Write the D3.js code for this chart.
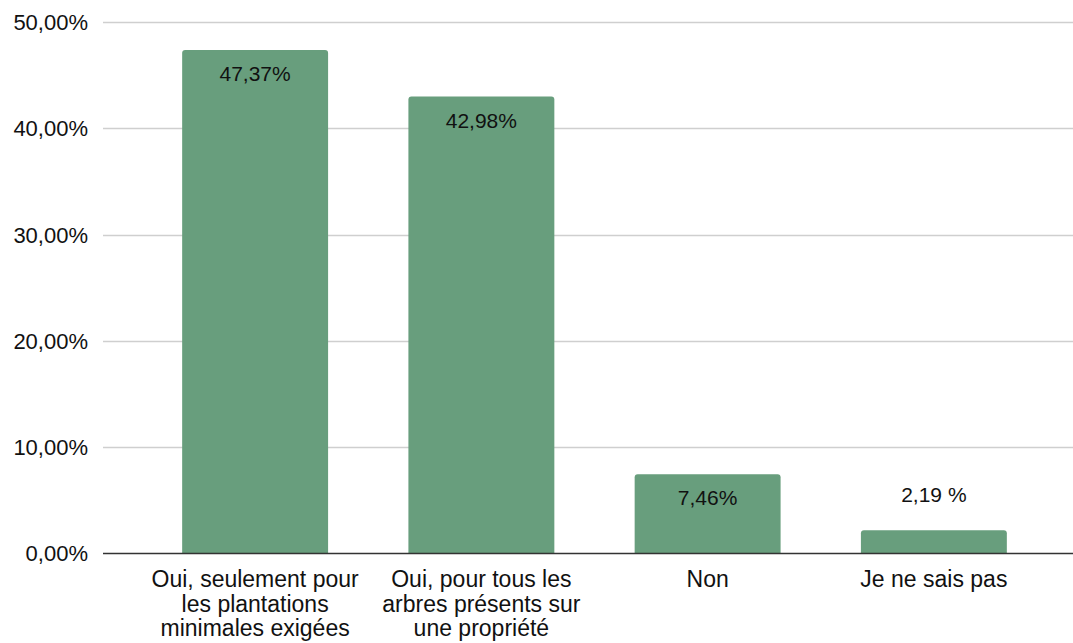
<!DOCTYPE html>
<html>
<head>
<meta charset="utf-8">
<script src="https://cdn.jsdelivr.net/npm/d3@7"></script>
<style>
  html, body { margin: 0; padding: 0; background: #ffffff; }
  svg { display: block; }
  text { font-family: "Liberation Sans", Arial, sans-serif; fill: #111111; }
</style>
</head>
<body>
<svg id="chart" width="1073" height="643"></svg>
<script>
const categories = [
  ["Oui, seulement pour", "les plantations", "minimales exigées"],
  ["Oui, pour tous les", "arbres présents sur", "une propriété"],
  ["Non"],
  ["Je ne sais pas"]
];
const values = [47.37, 42.98, 7.46, 2.19];
const valueLabels = ["47,37%", "42,98%", "7,46%", "2,19 %"];
const yTicks = [0, 10, 20, 30, 40, 50];
const yTickLabels = ["0,00%", "10,00%", "20,00%", "30,00%", "40,00%", "50,00%"];

const svg = d3.select("#chart");
const barColor = "#689e7d";

const y = d3.scaleLinear().domain([0, 50]).range([553.5, 22]);
const x = d3.scaleBand().domain(d3.range(values.length))
  .range([142, 1047]).paddingInner(0.355).paddingOuter(0.1775);

const gridX0 = 103, gridX1 = 1073;

// gridlines
svg.append("g").selectAll("line").data(yTicks.filter(t => t !== 0)).join("line")
  .attr("x1", gridX0).attr("x2", gridX1)
  .attr("y1", d => Math.round(y(d)) + 0.5).attr("y2", d => Math.round(y(d)) + 0.5)
  .attr("stroke", "#cfcfcf").attr("stroke-width", 1.3);

// y tick labels
svg.append("g").selectAll("text").data(yTicks).join("text")
  .attr("x", 88).attr("y", d => y(d)).attr("dy", "0.36em")
  .attr("text-anchor", "end").attr("font-size", 22)
  .text((d, i) => yTickLabels[i]);

// bars with rounded top corners
const r = 3;
svg.append("g").selectAll("path").data(values).join("path")
  .attr("fill", barColor)
  .attr("d", (d, i) => {
    const x0 = x(i), x1 = x(i) + x.bandwidth(), yt = y(d), yb = y(0);
    return `M${x0},${yb} L${x0},${yt + r} Q${x0},${yt} ${x0 + r},${yt} L${x1 - r},${yt} Q${x1},${yt} ${x1},${yt + r} L${x1},${yb} Z`;
  });

// zero line
svg.append("line").attr("x1", gridX0).attr("x2", gridX1)
  .attr("y1", y(0)).attr("y2", y(0))
  .attr("stroke", "#333333").attr("stroke-width", 1.5);

// value labels
svg.append("g").selectAll("text").data(values).join("text")
  .attr("x", (d, i) => x(i) + x.bandwidth() / 2)
  .attr("y", (d, i) => d > 5 ? y(d) + 31 : y(d) - 28)
  .attr("text-anchor", "middle").attr("font-size", 21)
  .attr("font-family", "'Open Sans', 'Liberation Sans', Arial, sans-serif")
  .text((d, i) => valueLabels[i]);

// category labels
const cat = svg.append("g").selectAll("text").data(categories).join("text")
  .attr("text-anchor", "middle").attr("font-size", 23);
cat.selectAll("tspan").data((d, i) => d.map(s => ({ s, i }))).join("tspan")
  .attr("x", d => x(d.i) + x.bandwidth() / 2)
  .attr("y", (d, j) => 587 + j * 24.5)
  .text(d => d.s);
</script>
</body>
</html>
